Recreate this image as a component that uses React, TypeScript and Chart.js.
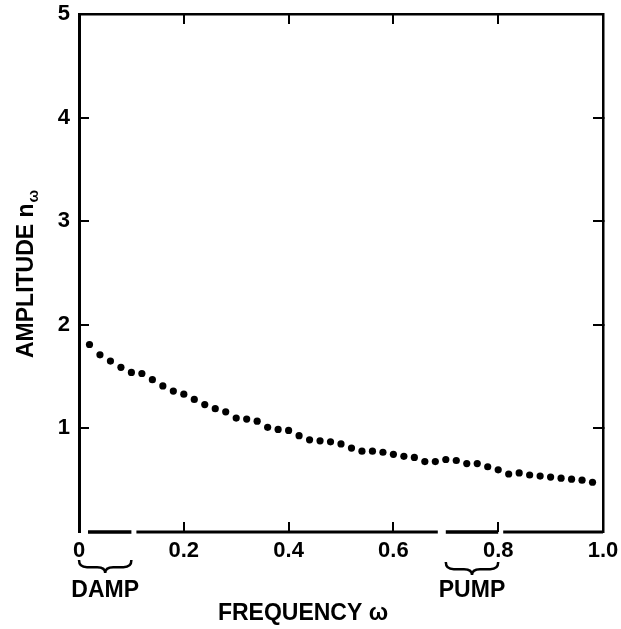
import React, { useEffect, useRef } from "react";
import { Chart, registerables } from "chart.js";

Chart.register(...registerables);

// ---- data ----
const frequency = [
  0.02, 0.04, 0.06, 0.08, 0.1, 0.12, 0.14, 0.16, 0.18, 0.2,
  0.22, 0.24, 0.26, 0.28, 0.3, 0.32, 0.34, 0.36, 0.38, 0.4,
  0.42, 0.44, 0.46, 0.48, 0.5, 0.52, 0.54, 0.56, 0.58, 0.6,
  0.62, 0.64, 0.66, 0.68, 0.7, 0.72, 0.74, 0.76, 0.78, 0.8,
  0.82, 0.84, 0.86, 0.88, 0.9, 0.92, 0.94, 0.96, 0.98,
];
const amplitude = [
  1.81, 1.71, 1.65, 1.59, 1.54, 1.53, 1.47, 1.41, 1.36, 1.33,
  1.28, 1.23, 1.19, 1.16, 1.1, 1.09, 1.07, 1.01, 0.99, 0.98,
  0.93, 0.89, 0.88, 0.87, 0.85, 0.81, 0.78, 0.78, 0.77, 0.75,
  0.73, 0.72, 0.68, 0.68, 0.7, 0.69, 0.66, 0.66, 0.63, 0.6,
  0.56, 0.57, 0.55, 0.54, 0.53, 0.52, 0.51, 0.5, 0.48,
];
const xTickValues = [0, 0.2, 0.4, 0.6, 0.8, 1.0];
const xTickLabels = ["0", "0.2", "0.4", "0.6", "0.8", "1.0"];
const yTickValues = [0, 1, 2, 3, 4, 5];
const yTickLabels = ["", "1", "2", "3", "4", "5"];
const dampRange = [0, 0.1];
const pumpRange = [0.7, 0.8];
const dampLabel = "DAMP";
const pumpLabel = "PUMP";
const xTitle = "FREQUENCY \u03C9";
const yTitle = "AMPLITUDE n";
const yTitleSub = "\u03C9";

const FONT = "'Liberation Sans', Arial, Helvetica, sans-serif";

function drawBrace(ctx: CanvasRenderingContext2D, x0: number, x1: number, yTop: number, h: number) {
  const mid = (x0 + x1) / 2;
  const q = Math.min(8, (x1 - x0) / 6);
  const ym = yTop + h * 0.55;
  ctx.beginPath();
  ctx.moveTo(x0, yTop);
  ctx.quadraticCurveTo(x0, ym, x0 + q, ym);
  ctx.lineTo(mid - q, ym);
  ctx.quadraticCurveTo(mid, ym, mid, yTop + h);
  ctx.quadraticCurveTo(mid, ym, mid + q, ym);
  ctx.lineTo(x1 - q, ym);
  ctx.quadraticCurveTo(x1, ym, x1, yTop);
  ctx.stroke();
}

const annotationPlugin = {
  id: "annotations",
  afterDraw(chart: any) {
    const ctx: CanvasRenderingContext2D = chart.ctx;
    const xs = chart.scales.x;
    const area = chart.chartArea;
    const px = (v: number) => xs.getPixelForValue(v);
    ctx.save();
    ctx.strokeStyle = "#000";
    ctx.fillStyle = "#000";
    ctx.lineCap = "butt";

    // broken bottom axis
    const yb = area.bottom;
    const gap = 5;
    const segs: [number, number, number][] = [
      [px(dampRange[0]) + 9, px(dampRange[1]), 3.5],
      [px(dampRange[1]) + gap, px(pumpRange[0]) - 8, 3],
      [px(pumpRange[0]), px(pumpRange[1]), 3.5],
      [px(pumpRange[1]) + gap, px(1), 3],
    ];
    segs.forEach(([a, b, w]) => {
      ctx.lineWidth = w;
      ctx.beginPath();
      ctx.moveTo(a, yb);
      ctx.lineTo(b, yb);
      ctx.stroke();
    });

    // braces
    ctx.lineWidth = 2.5;
    drawBrace(ctx, px(dampRange[0]), px(dampRange[1]), yb + 28, 13);
    drawBrace(ctx, px(pumpRange[0]), px(pumpRange[1]), yb + 30, 13);

    // brace labels
    ctx.font = `bold 23px ${FONT}`;
    ctx.textAlign = "center";
    ctx.textBaseline = "middle";
    ctx.fillText(dampLabel, (px(dampRange[0]) + px(dampRange[1])) / 2, yb + 59);
    ctx.fillText(pumpLabel, (px(pumpRange[0]) + px(pumpRange[1])) / 2, yb + 59);

    // x title
    ctx.fillText(xTitle, area.left + 224, yb + 82);

    // y title (rotated, with subscript)
    ctx.translate(33, 358);
    ctx.rotate(-Math.PI / 2);
    ctx.textAlign = "left";
    ctx.textBaseline = "alphabetic";
    ctx.font = `bold 23px ${FONT}`;
    ctx.fillText(yTitle, 0, 0);
    const w = ctx.measureText(yTitle).width;
    ctx.font = `bold 15px ${FONT}`;
    ctx.fillText(yTitleSub, w + 1, 5);
    ctx.restore();
  },
};

const hideEnds = (lo: number, hi: number) => (c: any) => {
  const v = c.tick ? c.tick.value : null;
  return v === lo || v === hi ? "rgba(0,0,0,0)" : "#000";
};

const fitTo = (prop: "width" | "height", size: number) => (s: any) => {
  s[prop] = size;
  s.paddingTop = 0;
  s.paddingBottom = 0;
  s.paddingLeft = 0;
  s.paddingRight = 0;
};

export default function App() {
  const ref = useRef<HTMLCanvasElement | null>(null);
  useEffect(() => {
    if (!ref.current) return;
    const tickFont = { family: FONT, size: 22, weight: "bold" as const };
    const chart = new Chart(ref.current, {
      type: "scatter",
      data: {
        datasets: [
          {
            data: frequency.map((f, i) => ({ x: f, y: amplitude[i] })),
            pointRadius: 3.6,
            pointBackgroundColor: "#000",
            pointBorderWidth: 0,
            showLine: false,
          },
        ],
      },
      options: {
        animation: false,
        responsive: false,
        devicePixelRatio: 1,
        layout: { padding: 0 },
        plugins: { legend: { display: false }, tooltip: { enabled: false } },
        scales: {
          x: {
            type: "linear",
            position: "bottom",
            min: 0,
            max: 1,
            afterBuildTicks: (s: any) => {
              s.ticks = xTickValues.map((v) => ({ value: v }));
            },
            afterFit: fitTo("height", 97),
            border: { display: false },
            grid: {
              drawOnChartArea: false,
              drawTicks: true,
              tickLength: -10,
              lineWidth: 2,
              color: hideEnds(0, 1),
            },
            ticks: {
              padding: 16,
              color: "#000",
              font: tickFont,
              maxRotation: 0,
              autoSkip: false,
              callback: (v: any) => {
                const i = xTickValues.indexOf(Number(v));
                return i >= 0 ? xTickLabels[i] : "";
              },
            },
          },
          x2: {
            type: "linear",
            axis: "x",
            position: "top",
            min: 0,
            max: 1,
            afterBuildTicks: (s: any) => {
              s.ticks = xTickValues.map((v) => ({ value: v }));
            },
            afterFit: fitTo("height", 14),
            border: { display: true, width: 2.5, color: "#000" },
            grid: {
              drawOnChartArea: false,
              drawTicks: true,
              tickLength: -10,
              lineWidth: 2,
              color: hideEnds(0, 1),
            },
            ticks: { display: false },
          },
          y: {
            type: "linear",
            position: "left",
            min: 0,
            max: 5,
            afterBuildTicks: (s: any) => {
              s.ticks = yTickValues.map((v) => ({ value: v }));
            },
            afterFit: fitTo("width", 79),
            border: { display: true, width: 3, color: "#000" },
            grid: {
              drawOnChartArea: false,
              drawTicks: true,
              tickLength: -10,
              lineWidth: 2,
              color: hideEnds(0, 5),
            },
            ticks: {
              padding: 19,
              color: "#000",
              font: tickFont,
              callback: (v: any) => {
                const i = yTickValues.indexOf(Number(v));
                return i >= 0 ? yTickLabels[i] : "";
              },
            },
          },
          y2: {
            type: "linear",
            axis: "y",
            position: "right",
            min: 0,
            max: 5,
            afterBuildTicks: (s: any) => {
              s.ticks = yTickValues.map((v) => ({ value: v }));
            },
            afterFit: fitTo("width", 18),
            border: { display: true, width: 2.5, color: "#000" },
            grid: {
              drawOnChartArea: false,
              drawTicks: true,
              tickLength: -10,
              lineWidth: 2,
              color: hideEnds(0, 5),
            },
            ticks: { display: false },
          },
        },
      } as any,
      plugins: [annotationPlugin],
    });
    return () => chart.destroy();
  }, []);

  return (
    <div style={{ position: "fixed", left: 0, top: 0, width: 621, height: 629, background: "#fff" }}>
      <canvas ref={ref} width={621} height={629} style={{ display: "block", width: 621, height: 629 }} />
    </div>
  );
}
